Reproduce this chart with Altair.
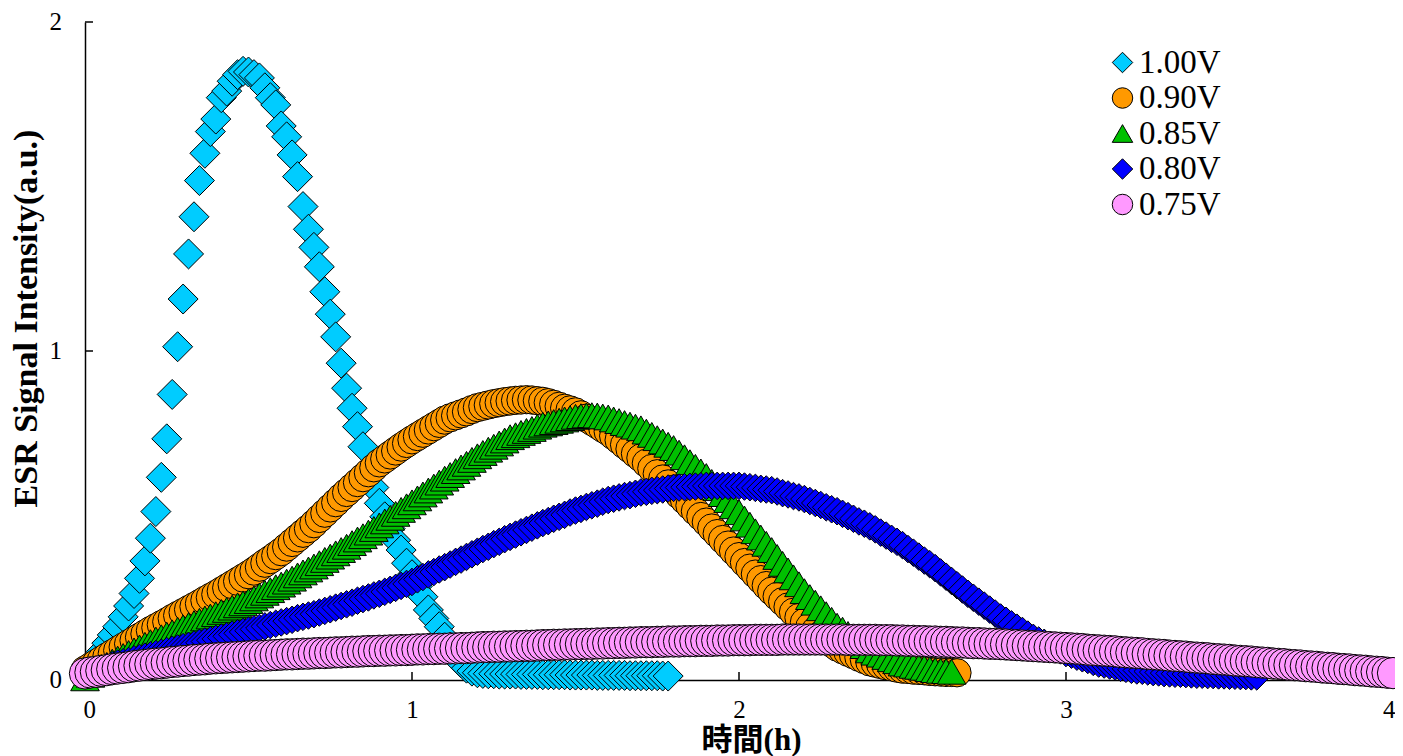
import altair as alt
import pandas as pd

# ---- data, one sample per minute ----
SAMPLE_INTERVAL_H = 1 / 60  # 1 minute sampling interval

SERIES = ["1.00V", "0.90V", "0.85V", "0.80V", "0.75V"]
COLORS = ["#00CCFF", "#FF9900", "#00C000", "#0000FF", "#FF99FF"]
SHAPES = ["diamond", "circle", "triangle-up", "diamond", "circle"]
OUTLINES = ["black", "black", "black", "black", "black"]

v100 = [0.020, 0.040, 0.062, 0.086, 0.112, 0.137, 0.162, 0.192, 0.225, 0.263,
        0.309, 0.362, 0.431, 0.512, 0.616, 0.733, 0.868, 1.013, 1.158, 1.295,
        1.408, 1.518, 1.601, 1.667, 1.705, 1.770, 1.790, 1.820, 1.840, 1.850,
        1.848, 1.840, 1.830, 1.800, 1.770, 1.748, 1.684, 1.651, 1.596, 1.530,
        1.439, 1.370, 1.315, 1.256, 1.180, 1.112, 1.043, 0.963, 0.887, 0.826,
        0.770, 0.709, 0.638, 0.585, 0.537, 0.496, 0.460, 0.425, 0.395, 0.355,
        0.320, 0.285, 0.253, 0.213, 0.187, 0.162, 0.130, 0.100, 0.075, 0.052,
        0.036, 0.027, 0.022, 0.020, 0.019, 0.019, 0.018, 0.018, 0.018, 0.018,
        0.017, 0.017, 0.017, 0.017, 0.016, 0.016, 0.016, 0.016, 0.016, 0.015,
        0.015, 0.015, 0.015, 0.015, 0.014, 0.014, 0.014, 0.014, 0.014, 0.014,
        0.013, 0.013, 0.013, 0.013, 0.013, 0.013, 0.012, 0.012]

v090 = [0.030, 0.040, 0.050, 0.060, 0.070, 0.080, 0.090, 0.100, 0.110, 0.120,
        0.130, 0.140, 0.150, 0.159, 0.168, 0.177, 0.187, 0.196, 0.205, 0.214,
        0.223, 0.232, 0.242, 0.251, 0.260, 0.270, 0.280, 0.290, 0.300, 0.310,
        0.320, 0.331, 0.343, 0.355, 0.366, 0.378, 0.390, 0.404, 0.418, 0.432,
        0.446, 0.460, 0.475, 0.491, 0.507, 0.523, 0.539, 0.555, 0.570, 0.585,
        0.600, 0.615, 0.630, 0.645, 0.660, 0.672, 0.684, 0.696, 0.708, 0.719,
        0.730, 0.740, 0.750, 0.760, 0.770, 0.780, 0.790, 0.797, 0.803, 0.809,
        0.815, 0.822, 0.828, 0.832, 0.836, 0.840, 0.843, 0.846, 0.848, 0.850,
        0.851, 0.852, 0.851, 0.849, 0.847, 0.843, 0.838, 0.832, 0.826, 0.821,
        0.815, 0.806, 0.796, 0.786, 0.776, 0.765, 0.755, 0.742, 0.729, 0.715,
        0.702, 0.688, 0.675, 0.659, 0.643, 0.627, 0.611, 0.596, 0.580, 0.563,
        0.547, 0.530, 0.513, 0.497, 0.480, 0.462, 0.445, 0.427, 0.410, 0.392,
        0.375, 0.357, 0.340, 0.322, 0.305, 0.287, 0.270, 0.254, 0.238, 0.222,
        0.206, 0.190, 0.175, 0.162, 0.149, 0.137, 0.124, 0.112, 0.100, 0.092,
        0.084, 0.077, 0.069, 0.062, 0.055, 0.051, 0.047, 0.043, 0.040, 0.036,
        0.033, 0.032, 0.030, 0.029, 0.028, 0.026, 0.025, 0.024, 0.023, 0.023,
        0.022]

v085 = [0.005, 0.016, 0.027, 0.037, 0.046, 0.056, 0.065, 0.073, 0.082, 0.090,
        0.099, 0.107, 0.115, 0.123, 0.130, 0.138, 0.145, 0.153, 0.160, 0.167,
        0.173, 0.180, 0.187, 0.193, 0.200, 0.207, 0.213, 0.220, 0.227, 0.233,
        0.240, 0.248, 0.257, 0.265, 0.273, 0.282, 0.290, 0.299, 0.308, 0.318,
        0.327, 0.336, 0.345, 0.355, 0.365, 0.375, 0.385, 0.395, 0.405, 0.416,
        0.427, 0.437, 0.448, 0.459, 0.470, 0.482, 0.493, 0.505, 0.517, 0.528,
        0.540, 0.552, 0.564, 0.576, 0.588, 0.600, 0.612, 0.623, 0.635, 0.646,
        0.657, 0.669, 0.680, 0.690, 0.700, 0.709, 0.719, 0.728, 0.738, 0.744,
        0.751, 0.757, 0.763, 0.770, 0.776, 0.780, 0.784, 0.788, 0.792, 0.796,
        0.800, 0.802, 0.804, 0.805, 0.804, 0.801, 0.798, 0.792, 0.787, 0.781,
        0.776, 0.770, 0.765, 0.755, 0.745, 0.735, 0.725, 0.715, 0.705, 0.691,
        0.677, 0.662, 0.648, 0.634, 0.620, 0.602, 0.583, 0.565, 0.547, 0.528,
        0.510, 0.491, 0.472, 0.452, 0.433, 0.414, 0.395, 0.374, 0.353, 0.333,
        0.312, 0.291, 0.270, 0.252, 0.235, 0.218, 0.200, 0.183, 0.165, 0.153,
        0.140, 0.128, 0.115, 0.103, 0.090, 0.083, 0.077, 0.070, 0.063, 0.057,
        0.050, 0.047, 0.043, 0.040, 0.037, 0.033, 0.030, 0.028, 0.027, 0.025]

v080 = [0.020, 0.025, 0.030, 0.035, 0.040, 0.045, 0.050, 0.054, 0.058, 0.063,
        0.067, 0.071, 0.075, 0.079, 0.083, 0.088, 0.092, 0.096, 0.100, 0.104,
        0.108, 0.113, 0.117, 0.121, 0.125, 0.129, 0.133, 0.138, 0.142, 0.146,
        0.150, 0.154, 0.158, 0.163, 0.167, 0.171, 0.175, 0.179, 0.183, 0.188,
        0.192, 0.196, 0.200, 0.205, 0.210, 0.215, 0.220, 0.225, 0.230, 0.235,
        0.241, 0.246, 0.251, 0.257, 0.262, 0.268, 0.274, 0.280, 0.286, 0.292,
        0.298, 0.306, 0.313, 0.321, 0.328, 0.336, 0.343, 0.351, 0.359, 0.366,
        0.374, 0.382, 0.390, 0.398, 0.405, 0.413, 0.420, 0.428, 0.435, 0.442,
        0.449, 0.456, 0.463, 0.470, 0.477, 0.483, 0.490, 0.496, 0.502, 0.509,
        0.515, 0.520, 0.526, 0.531, 0.536, 0.542, 0.547, 0.551, 0.555, 0.559,
        0.562, 0.566, 0.570, 0.572, 0.575, 0.577, 0.579, 0.582, 0.584, 0.585,
        0.586, 0.587, 0.588, 0.589, 0.590, 0.590, 0.590, 0.590, 0.590, 0.590,
        0.590, 0.588, 0.586, 0.584, 0.581, 0.579, 0.577, 0.573, 0.568, 0.564,
        0.559, 0.555, 0.550, 0.544, 0.538, 0.532, 0.525, 0.519, 0.513, 0.505,
        0.498, 0.490, 0.482, 0.475, 0.467, 0.458, 0.448, 0.439, 0.429, 0.420,
        0.410, 0.398, 0.387, 0.375, 0.363, 0.352, 0.340, 0.327, 0.314, 0.301,
        0.288, 0.275, 0.262, 0.250, 0.238, 0.226, 0.214, 0.202, 0.190, 0.180,
        0.169, 0.159, 0.149, 0.138, 0.128, 0.120, 0.113, 0.105, 0.097, 0.090,
        0.082, 0.077, 0.071, 0.066, 0.061, 0.055, 0.050, 0.047, 0.044, 0.041,
        0.037, 0.034, 0.031, 0.029, 0.028, 0.026, 0.024, 0.023, 0.021, 0.020,
        0.019, 0.019, 0.018, 0.017, 0.016, 0.016, 0.015, 0.015, 0.014, 0.014,
        0.013, 0.013, 0.012, 0.012, 0.011, 0.011]

v075 = [0.020, 0.023, 0.025, 0.028, 0.030, 0.033, 0.035,
        0.037, 0.039, 0.042, 0.044, 0.046, 0.048,
        0.050, 0.051, 0.053, 0.055, 0.056, 0.058,
        0.059, 0.061, 0.062, 0.063, 0.065, 0.066,
        0.067, 0.068, 0.069, 0.070, 0.071, 0.072,
        0.073, 0.074, 0.074, 0.075, 0.076, 0.077,
        0.078, 0.078, 0.079, 0.080, 0.080, 0.081,
        0.082, 0.082, 0.083, 0.084, 0.084, 0.085,
        0.086, 0.086, 0.087, 0.088, 0.088, 0.089,
        0.089, 0.090, 0.090, 0.091, 0.091, 0.092,
        0.093, 0.093, 0.094, 0.094, 0.095, 0.095, 0.096, 0.096, 0.097, 0.097, 0.098, 0.099,
        0.100, 0.100, 0.101, 0.101, 0.102, 0.102, 0.103, 0.103, 0.104, 0.104, 0.105, 0.106,
        0.106, 0.107, 0.107, 0.108, 0.108, 0.109, 0.109, 0.110, 0.110, 0.111, 0.111, 0.112,
        0.112, 0.113, 0.113, 0.114, 0.114, 0.115, 0.115, 0.115, 0.116, 0.116, 0.117, 0.117,
        0.117, 0.118, 0.118, 0.118, 0.119, 0.119, 0.119, 0.120, 0.120, 0.120, 0.121, 0.121,
        0.121, 0.121, 0.122, 0.122, 0.122, 0.122, 0.122, 0.123, 0.123, 0.123, 0.123, 0.123,
        0.123, 0.123, 0.123, 0.123, 0.123, 0.123, 0.123, 0.122, 0.122, 0.122, 0.122, 0.122,
        0.122, 0.121, 0.121, 0.121, 0.120, 0.120, 0.119, 0.119, 0.118, 0.118, 0.117, 0.117,
        0.116, 0.116, 0.115, 0.114, 0.114, 0.113, 0.112, 0.112, 0.111, 0.110, 0.110, 0.109,
        0.108, 0.107, 0.106, 0.105, 0.104, 0.103, 0.102, 0.101, 0.100, 0.099, 0.098, 0.097,
        0.096, 0.095, 0.094, 0.092, 0.091, 0.090, 0.089, 0.088, 0.087, 0.085, 0.084, 0.083,
        0.082, 0.081, 0.079, 0.078, 0.077, 0.076, 0.074, 0.073, 0.072, 0.071, 0.069, 0.068,
        0.067, 0.066, 0.064, 0.063, 0.062, 0.061, 0.059, 0.058, 0.057, 0.056, 0.054, 0.053,
        0.052, 0.050, 0.049, 0.048, 0.046, 0.045, 0.044, 0.042, 0.041, 0.040, 0.038, 0.037,
        0.036, 0.034, 0.033, 0.032, 0.030, 0.029, 0.028, 0.026, 0.025, 0.024, 0.022, 0.021]

X_TICKS = [0, 1, 2, 3, 4]
Y_TICKS = [0, 1, 2]

# ---- build table ----
rows = []
for name, vals in zip(SERIES, [v100, v090, v085, v080, v075]):
    for i, v in enumerate(vals):
        rows.append({"series": name, "t": i * SAMPLE_INTERVAL_H, "v": v})
df = pd.DataFrame(rows)

W, H = 1308, 658
SERIF = "Liberation Serif, Times New Roman, serif"
TITLE_FONT = "Liberation Serif, Noto Sans CJK JP, serif"

x_scale = alt.Scale(domain=[0, 4], nice=False, zero=False)
y_scale = alt.Scale(domain=[0, 2], nice=False)

X_AXIS = alt.Axis(
    values=X_TICKS, ticks=False, grid=False, format="d",
    domainColor="black", domainWidth=1.5, labelOverlap=False,
    labelFont=SERIF, labelFontSize=25, labelColor="black",
    labelPadding=17, labelFlush=True, labelFlushOffset=2,
    title="時間(h)", titleFont=TITLE_FONT, titleFontSize=31,
    titleFontWeight="bold", titleColor="black",
    titleX=666, titleY=45, titleBaseline="top", titleAlign="center")
Y_AXIS = alt.Axis(
    values=Y_TICKS, ticks=False, grid=False, labels=False,
    domainColor="black", domainWidth=1.5,
    title="ESR Signal Intensity(a.u.)", titleFont=SERIF, titleFontSize=34,
    titleFontWeight="bold", titleColor="black",
    titleX=-59, titleY=296, titleBaseline="middle", titleAlign="center",
    titleAngle=270)

legend = alt.Legend(
    orient="none", legendX=1021, legendY=24, title=None,
    symbolSize=420, symbolStrokeWidth=1,
    labelFontSize=33, labelOffset=0,
)

SIZE_EXPR = ("datum.series == '1.00V' ? 900 : datum.series == '0.90V' ? 800 : "
             "datum.series == '0.85V' ? 820 : datum.series == '0.80V' ? 760 : 980")

points = alt.Chart(df).transform_calculate(sz=SIZE_EXPR).mark_point(
    filled=True, strokeWidth=1, opacity=1, clip=False
).encode(
    x=alt.X("t:Q", scale=x_scale, axis=X_AXIS),
    y=alt.Y("v:Q", scale=y_scale, axis=Y_AXIS),
    fill=alt.Fill("series:N", scale=alt.Scale(domain=SERIES, range=COLORS),
                  legend=legend),
    shape=alt.Shape("series:N", scale=alt.Scale(domain=SERIES, range=SHAPES),
                    legend=legend),
    stroke=alt.Stroke("series:N", scale=alt.Scale(domain=SERIES, range=OUTLINES),
                      legend=legend),
    size=alt.Size("sz:Q", scale=None),
)

xticks = alt.Chart(pd.DataFrame({"t": X_TICKS})).mark_rule(
    color="black", strokeWidth=1.5
).encode(x=alt.X("t:Q", scale=x_scale, axis=X_AXIS),
         y=alt.value(H - 8), y2=alt.value(H))

yticks = alt.Chart(pd.DataFrame({"v": Y_TICKS})).mark_rule(
    color="black", strokeWidth=1.5
).encode(y=alt.Y("v:Q", scale=y_scale, axis=Y_AXIS),
         x=alt.value(0), x2=alt.value(8))

ylabels = alt.Chart(pd.DataFrame({"v": Y_TICKS})).mark_text(
    align="right", baseline="middle", dx=-23, font=SERIF, fontSize=25,
    color="black"
).encode(y=alt.Y("v:Q", scale=y_scale, axis=Y_AXIS),
         x=alt.value(0), text=alt.Text("v:Q", format="d"))

chart = alt.layer(xticks, yticks, ylabels, points).properties(
    width=W, height=H,
    padding={"left": 77, "top": 14, "right": 2, "bottom": 76},
    autosize=alt.AutoSizeParams(type="none"),
    background="white",
).configure_view(stroke=None).configure_legend(
    padding=0, labelFont=SERIF, labelFontSize=33, labelColor="black",
    labelOffset=0, symbolSize=420, symbolStrokeWidth=1, symbolOpacity=1,
    rowPadding=1.5,
)

chart.save("out.html", embed_options={"renderer": "svg", "actions": False})
